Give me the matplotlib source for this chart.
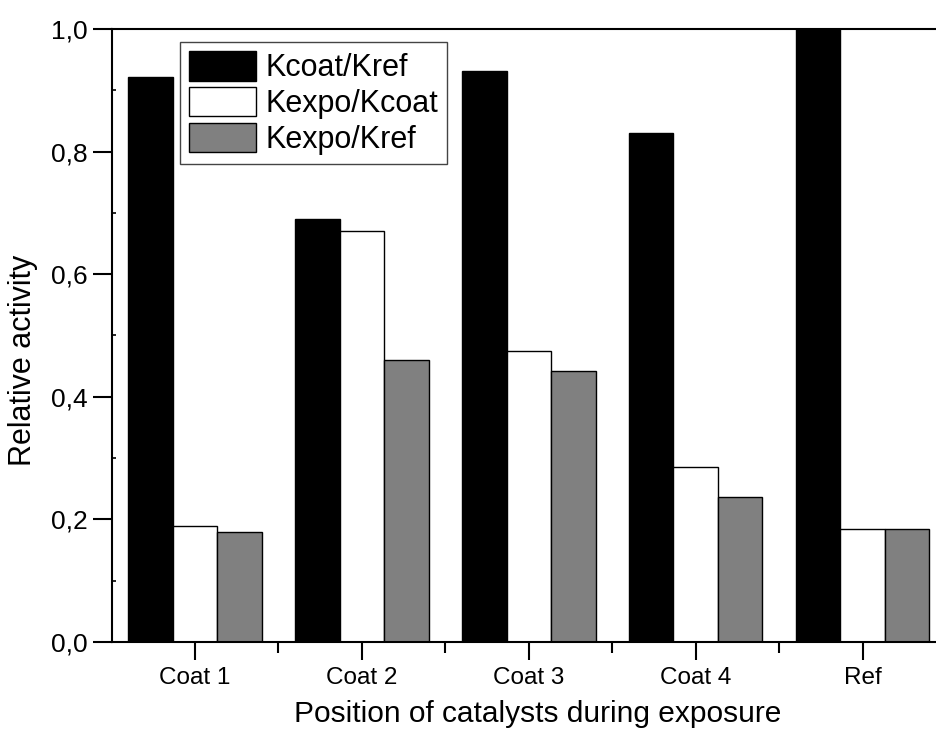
import matplotlib
matplotlib.use('Agg')
import matplotlib.pyplot as plt
from matplotlib.ticker import FixedLocator, FuncFormatter, MultipleLocator
import numpy as np

plt.rcParams['font.family'] = ['Liberation Sans', 'DejaVu Sans']

# Data
categories = ['Coat 1', 'Coat 2', 'Coat 3', 'Coat 4', 'Ref']
series_names = ['Kcoat/Kref', 'Kexpo/Kcoat', 'Kexpo/Kref']
kcoat_kref = [0.922, 0.69, 0.932, 0.83, 1.0]
kexpo_kcoat = [0.19, 0.67, 0.475, 0.285, 0.185]
kexpo_kref = [0.18, 0.46, 0.442, 0.237, 0.185]
series_colors = ['black', 'white', '#808080']

fig = plt.figure(figsize=(9.36, 7.33), dpi=100)
ax = fig.add_axes([112 / 936, 1 - 642 / 733, (936 - 112) / 936, (642 - 29) / 733])

x = np.arange(1, len(categories) + 1)
width = 0.8 / 3
series = [kcoat_kref, kexpo_kcoat, kexpo_kref]
for i, (vals, name, col) in enumerate(zip(series, series_names, series_colors)):
    ax.bar(x + (i - 1) * width, vals, width, color=col, edgecolor='black',
           linewidth=1.0, label=name, zorder=2)

ax.set_xlim(0.503, 5.44)
ax.set_ylim(0, 1.0)

# spines: left, bottom, top; picture is cut at the right
ax.spines['right'].set_visible(False)
for s in ['left', 'bottom', 'top']:
    ax.spines[s].set_linewidth(1.5)

ax.set_xticks(x)
ax.set_xticklabels(categories, fontsize=17.5)
ax.xaxis.set_minor_locator(FixedLocator(x[:-1] + 0.5))
ax.tick_params(axis='x', which='major', direction='out', length=13, width=1.5, pad=5)
ax.tick_params(axis='x', which='minor', direction='out', length=8, width=1.5)
ax.tick_params(axis='x', top=False, which='both')

ax.set_yticks(np.arange(0, 1.01, 0.2))
ax.yaxis.set_major_formatter(FuncFormatter(lambda v, p: f'{v:.1f}'.replace('.', ',')))
ax.yaxis.set_minor_locator(MultipleLocator(0.1))
ax.tick_params(axis='y', which='major', direction='out', length=14, width=1.5,
               labelsize=19, pad=3.5)
ax.tick_params(axis='y', which='minor', direction='in', length=3, width=1.2)

ax.set_xlabel('Position of catalysts during exposure', fontsize=21.5)
ax.xaxis.set_label_coords(0.517, -0.094)
ax.set_ylabel('Relative activity', fontsize=22)
ax.yaxis.set_label_coords(-0.09, 0.46)

leg = ax.legend(loc='upper left', bbox_to_anchor=((180 - 112) / 824, 1 - (42 - 29) / 613),
                fontsize=22, frameon=True, fancybox=False, framealpha=1,
                edgecolor='#444444', handlelength=2.2, handleheight=1.1,
                labelspacing=0.12, borderpad=0.3, handletextpad=0.3,
                borderaxespad=0)
leg.get_frame().set_linewidth(1.0)

fig.savefig('out.png', dpi=100)
